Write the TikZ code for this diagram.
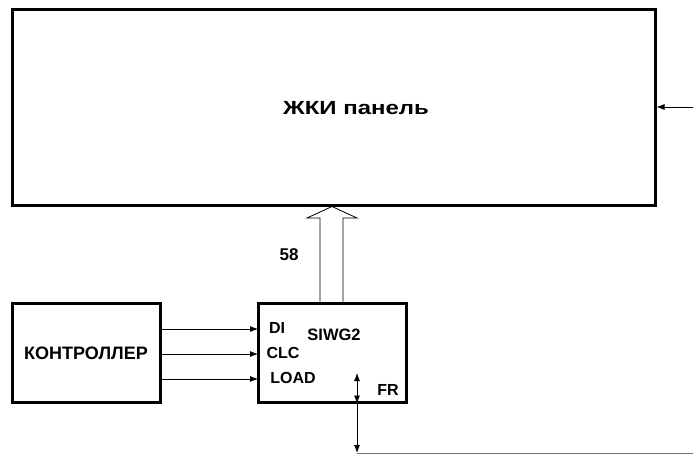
\documentclass[tikz,border=0pt]{standalone}
\usepackage{fontspec}
\setmainfont{Liberation Sans}
\usetikzlibrary{arrows.meta}
\begin{document}
\begin{tikzpicture}[x=1pt,y=-1pt,
  blk/.style={draw,line width=3pt,inner sep=0pt,font=\bfseries\fontsize{16}{18}\selectfont},
  arr/.style={-{Latex[length=8pt,width=6pt]},line width=0.8pt},
  lbl/.style={inner sep=0pt,font=\bfseries\fontsize{16}{18}\selectfont}]
\useasboundingbox (0,0) rectangle (693,457);
\node[blk,minimum width=643pt,minimum height=196pt] (panel) at (333.5,108) {};
\node[lbl,font=\bfseries\fontsize{19}{22}\selectfont] (ptext) at (356,108) {\scalebox{1.26}[1]{ЖКИ панель}};
\node[blk,minimum width=148pt,minimum height=99pt,font=\bfseries\fontsize{18}{20}\selectfont] (ctrl) at (86,353) {КОНТРОЛЛЕР};
\node[blk,minimum width=148pt,minimum height=99pt] (siwg) at (332,352.5) {};
\node[lbl] (di) at (277,328) {DI};
\node[lbl] (clc) at (283,353) {CLC};
\node[lbl] (load) at (293,378) {LOAD};
\node[lbl,font=\bfseries\fontsize{16.5}{18}\selectfont] (sw) at (334,335) {SIWG2};
\node[lbl] (fr) at (388,390) {FR};
\node[lbl,font=\bfseries\fontsize{17}{20}\selectfont] (n58) at (289,255) {58};
% inputs
\coordinate (inDI) at (258,329);
\coordinate (inCLC) at (258,354);
\coordinate (inLOAD) at (258,379);
\draw[arr] (ctrl.east |- inDI) -- (inDI);
\draw[arr] (ctrl.east |- inCLC) -- (inCLC);
\draw[arr] (ctrl.east |- inLOAD) -- (inLOAD);
% right input to panel
\coordinate (inR) at (693,107);
\draw[arr] (inR) -- (panel.east |- inR);
% hollow bus arrow
\coordinate (busL) at (320,303);
\coordinate (busR) at (343,303);
\draw[line width=0.8pt,fill=white] (siwg.north -| busL) -- (320,218) -- (307,218) -- (332,206.5) -- (357,218) -- (343,218) -- (siwg.north -| busR);
% FR
\coordinate (frtop) at (357,373);
\coordinate (frdown) at (357,453);
\coordinate (frend) at (693,453);
\draw[{Latex[length=8pt,width=6pt]}-{Latex[length=8pt,width=6pt]},line width=0.8pt] (frtop) -- (siwg.south -| frtop);
\draw[arr] (siwg.south -| frtop) -- (frdown);
\draw[line width=0.8pt,black!55] (frdown) -- (frend);
\end{tikzpicture}
\end{document}
